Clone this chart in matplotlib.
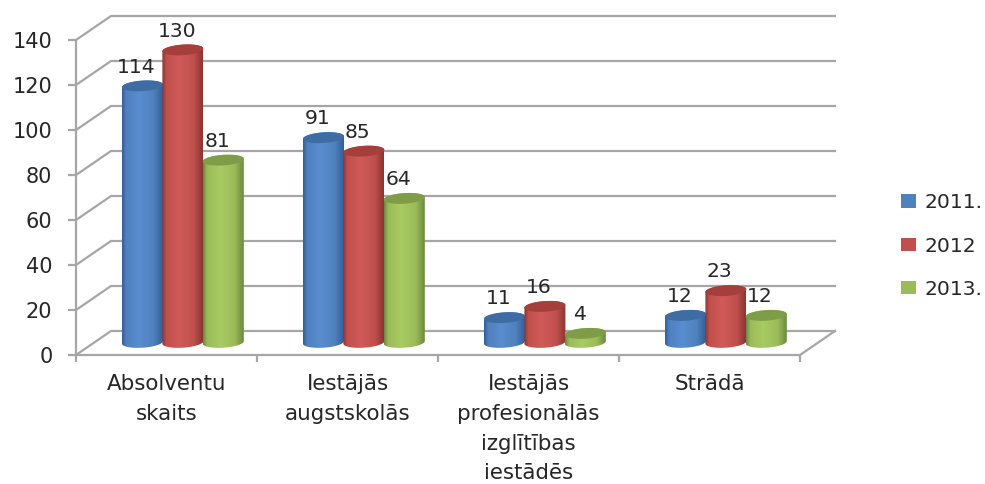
#!/usr/bin/env python3

import numpy as np
import matplotlib
matplotlib.use("Agg")
import matplotlib.pyplot as plt
from matplotlib.patches import Patch, Polygon

categories = ["Absolventu\nskaits", "Iestājās\naugstskolās",
              "Iestājās\nprofesionālās\nizglītības\niestādēs", "Strādā"]
years = ["2011.", "2012", "2013."]
values_2011 = [114, 91, 11, 12]
values_2012 = [130, 85, 16, 23]
values_2013 = [81, 64, 4, 12]
y_ticks = [0, 20, 40, 60, 80, 100, 120, 140]

colors = ["#4F81BD", "#C0504D", "#9BBB59"]
edge_colors = ["#34609A", "#8A3532", "#6C8A40"]
light_colors = ["#5A8DD0", "#D05A57", "#A9CB62"]
top_colors = ["#3E6CA3", "#A43F3C", "#7F9D48"]
GRID = "#A6A6A6"
TEXT = "#262626"

plt.rcParams["font.family"] = "DejaVu Sans"

W, H = 985, 484
fig = plt.figure(figsize=(W / 100, H / 100), dpi=100)
ax = fig.add_axes([76 / W, 1 - 355 / H, 724 / W, 315 / H])
ax.set_xlim(0, 4)
ax.set_ylim(0, 140)

# 3d look: offset of the back wall, in data units
depth_x = 35 / 181
depth_y = 24 / 2.25

for v in y_ticks:
    ax.plot([0, depth_x, 4 + depth_x], [v, v + depth_y, v + depth_y],
            color=GRID, lw=1.6, clip_on=False, zorder=1)
ax.plot([4, 4 + depth_x], [0, depth_y], color=GRID, lw=1.6, clip_on=False, zorder=1)


def cylinder(x0, width, value, j):
    # body and caps are drawn from the value, base floats above the front edge
    base = 5.6
    t = np.linspace(0, np.pi, 40)
    xc = x0 + width / 2
    ex = np.cos(t) * width / 2
    tilt = (ex / (width / 2)) * 1.3 / 2.25
    ry = 5.3 / 2.25
    top = base + value
    # back half of top cap goes right to left, front half of bottom left to right
    top_x, top_y = xc + ex, top + tilt + np.sin(t) * ry
    bot_x, bot_y = xc - ex, base - tilt - np.sin(t) * ry
    body = np.column_stack([np.r_[top_x, bot_x], np.r_[top_y, bot_y]])

    pos = np.array([0, 0.1, 0.42, 0.78, 1.0])
    c0 = np.array(matplotlib.colors.to_rgb(edge_colors[j]))
    c1 = np.array(matplotlib.colors.to_rgb(colors[j]))
    c2 = np.array(matplotlib.colors.to_rgb(light_colors[j]))
    stops = np.array([c0, c1, c2, c1, c0])
    u = np.linspace(0, 1, 64)
    grad = np.column_stack([np.interp(u, pos, stops[:, k]) for k in range(3)])[None, :, :]
    im = ax.imshow(grad, extent=[x0, x0 + width, 0, top + 5], aspect="auto",
                   interpolation="bilinear", zorder=3 + j * 0.1, origin="lower")
    poly = Polygon(body, transform=ax.transData, fc="none", ec="none")
    ax.add_patch(poly)
    im.set_clip_path(poly)

    t2 = np.linspace(0, 2 * np.pi, 80)
    cx = np.cos(t2) * width / 2
    cy = top + (np.cos(t2)) * 1.3 / 2.25 + np.sin(t2) * ry
    ax.add_patch(Polygon(np.column_stack([xc + cx, cy]), fc=top_colors[j], ec="none",
                         zorder=3.05 + j * 0.1))


series = [values_2011, values_2012, values_2013]
bar_w = 41 / 181
bar_step = 40.4 / 181
group_start = 46 / 181

for j, vals in enumerate(series):
    for i, v in enumerate(vals):
        x0 = i + group_start + j * bar_step
        cylinder(x0, bar_w, v, j)
        ax.annotate(str(v), (x0 + bar_w / 2, v + 5.6), xytext=(-4.5, 13.5),
                    textcoords="offset points", ha="center", va="center",
                    fontsize=14.6, color=TEXT, zorder=6, annotation_clip=False)

ax.set_xlim(0, 4)
ax.set_ylim(0, 140)
ax.patch.set_alpha(0)

for s in ["top", "right"]:
    ax.spines[s].set_visible(False)
for s in ["left", "bottom"]:
    ax.spines[s].set_color(GRID)
    ax.spines[s].set_linewidth(1.6)
    ax.spines[s].set_zorder(2)

ax.set_yticks(y_ticks)
ax.tick_params(axis="y", length=6, width=1.6, color=GRID, labelsize=15, labelcolor=TEXT, pad=11)
ax.set_xticks(range(5))
ax.set_xticklabels([])
ax.tick_params(axis="x", which="major", length=5, width=1.6, color=GRID)
ax.set_xticks(np.arange(4) + 0.5, minor=True)
ax.set_xticklabels(categories, minor=True, fontsize=15.4, color=TEXT, linespacing=1.6)
ax.tick_params(axis="x", which="minor", length=0, pad=14)

handles = [Patch(fc=c, ec="none", label=y) for c, y in zip(colors, years)]
fig.legend(handles=handles, loc="center left", bbox_to_anchor=(891 / W, 1 - 246 / H),
           frameon=False, fontsize=14.6, labelcolor=TEXT, handlelength=0.74, handleheight=0.63,
           handletextpad=0.4, labelspacing=1.2, borderpad=0, borderaxespad=0.5)

fig.savefig("out.png", dpi=100, facecolor="white")
